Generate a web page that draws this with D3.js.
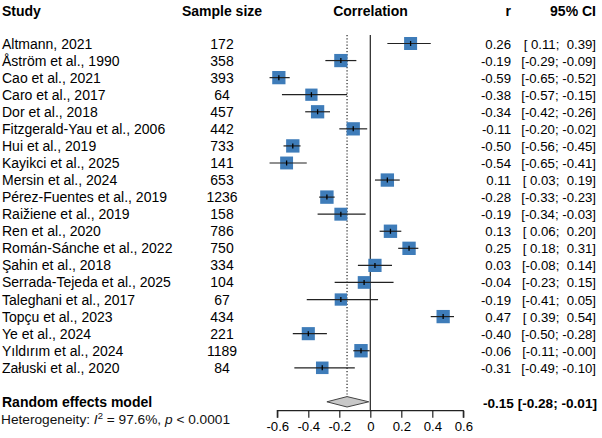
<!DOCTYPE html>
<html><head><meta charset="utf-8">
<script src="https://cdn.jsdelivr.net/npm/d3@7"></script>
<style>
body{margin:0;background:#fff}
svg{display:block;font-family:"Liberation Sans",Arial,sans-serif}
text{white-space:pre}
</style></head>
<body><svg id="c" width="602" height="438"></svg>
<script>
const studies = ["Altmann, 2021","Åström et al., 1990","Cao et al., 2021","Caro et al., 2017","Dor et al., 2018","Fitzgerald-Yau et al., 2006","Hui et al., 2019","Kayikci et al., 2025","Mersin et al., 2024","Pérez-Fuentes et al., 2019","Raižiene et al., 2019","Ren et al., 2020","Román-Sánche et al., 2022","Şahin et al., 2018","Serrada-Tejeda et al., 2025","Taleghani et al., 2017","Topçu et al., 2023","Ye et al., 2024","Yıldırım et al., 2024","Załuski et al., 2020"];
const sampleSizes = [172,358,393,64,457,442,733,141,653,1236,158,786,750,334,104,67,434,221,1189,84];
const rValues = [0.26,-0.19,-0.59,-0.38,-0.34,-0.11,-0.50,-0.54,0.11,-0.28,-0.19,0.13,0.25,0.03,-0.04,-0.19,0.47,-0.40,-0.06,-0.31];
const ciLow = [0.11,-0.29,-0.65,-0.57,-0.42,-0.20,-0.56,-0.65,0.03,-0.33,-0.34,0.06,0.18,-0.08,-0.23,-0.41,0.39,-0.50,-0.11,-0.49];
const ciHigh = [0.39,-0.09,-0.52,-0.15,-0.26,-0.02,-0.45,-0.41,0.19,-0.23,-0.03,0.20,0.31,0.14,0.15,0.05,0.54,-0.28,-0.004,-0.10];
const pooled = {r:-0.15, lo:-0.28, hi:-0.01};
const tickValues = [-0.6,-0.4,-0.2,0,0.2,0.4,0.6];
const heterogeneity = {i2:"97.6%", p:"< 0.0001"};

const svg = d3.select("#c");
const x = d3.scaleLinear().domain([-0.6,0.6]).range([277.3,463.3]);
const y = d3.scaleLinear().domain([0,studies.length-1]).range([43.5,367.8]);
const tau2 = 0.08;
const w = sampleSizes.map(n => 1/(1/(n-3)+tau2));
const sz = d3.scaleSqrt().domain([0,d3.max(w)]).range([0,13.4]);
const fmt = v => v.toFixed(2);
const pad = v => (v<0 ? "" : " ") + fmt(v);
const col = "#3E7CB9";
const ink = "#222";

// headers
const hdr = svg.append("g").attr("font-weight","bold").attr("font-size",14).attr("fill","#000");
hdr.append("text").attr("x",2).attr("y",16).text("Study");
hdr.append("text").attr("x",222).attr("y",16).attr("text-anchor","middle").text("Sample size");
hdr.append("text").attr("x",370.5).attr("y",16).attr("text-anchor","middle").text("Correlation");
hdr.append("text").attr("x",511).attr("y",16).attr("text-anchor","end").text("r");
hdr.append("text").attr("x",596).attr("y",16).attr("text-anchor","end").text("95% CI");

// reference lines
svg.append("line").attr("x1",x(0)).attr("x2",x(0)).attr("y1",35).attr("y2",410.7)
  .attr("stroke",ink).attr("stroke-width",1.2);
svg.append("line").attr("x1",x(pooled.r)).attr("x2",x(pooled.r)).attr("y1",35).attr("y2",397)
  .attr("stroke",ink).attr("stroke-width",1.2).attr("stroke-dasharray","1.2,2");

const rows = svg.append("g").selectAll("g").data(studies).join("g")
  .attr("transform",(d,i)=>`translate(0,${y(i)})`);
rows.append("text").attr("x",2).attr("y",5).attr("font-size",14).text(d=>d);
rows.append("text").attr("x",222).attr("y",5).attr("font-size",14).attr("text-anchor","middle").text((d,i)=>sampleSizes[i]);
rows.append("rect")
  .attr("x",(d,i)=>x(rValues[i])-sz(w[i])/2).attr("y",(d,i)=>-sz(w[i])/2)
  .attr("width",(d,i)=>sz(w[i])).attr("height",(d,i)=>sz(w[i])).attr("fill",col);
rows.append("line").attr("x1",(d,i)=>x(ciLow[i])).attr("x2",(d,i)=>x(ciHigh[i]))
  .attr("stroke",ink).attr("stroke-width",1.2);
rows.append("line").attr("x1",(d,i)=>x(rValues[i])).attr("x2",(d,i)=>x(rValues[i]))
  .attr("y1",-2.5).attr("y2",2.5).attr("stroke","#000").attr("stroke-width",1.3);
rows.append("text").attr("x",511).attr("y",5).attr("font-size",13.2).attr("text-anchor","end").text((d,i)=>fmt(rValues[i]));
rows.append("text").attr("x",596).attr("y",5).attr("font-size",13.2).attr("text-anchor","end")
  .text((d,i)=>`[${pad(ciLow[i])}; ${pad(ciHigh[i])}]`);

// pooled
const yd = 401.8;
svg.append("path").attr("d",`M${x(pooled.lo)},${yd}L${x(pooled.r)},${yd-5.2}L${x(pooled.hi)},${yd}L${x(pooled.r)},${yd+5.2}Z`)
  .attr("fill","#c8c8c8").attr("stroke","#444").attr("stroke-width",1);
svg.append("text").attr("x",2).attr("y",407.3).attr("font-weight","bold").attr("font-size",14).text("Random effects model");
svg.append("text").attr("x",597).attr("y",407.7).attr("font-weight","bold").attr("font-size",13.6).attr("text-anchor","end")
  .text(`${fmt(pooled.r)} [${pad(pooled.lo)}; ${pad(pooled.hi)}]`);
const het = svg.append("text").attr("x",1).attr("y",424.3).attr("font-size",13.7).attr("fill","#111");
het.append("tspan").text("Heterogeneity: ");
het.append("tspan").attr("font-style","italic").text("I");
het.append("tspan").attr("font-size",9.5).attr("dy",-5.5).text("2");
het.append("tspan").attr("dy",5.5).text(` = ${heterogeneity.i2}, `);
het.append("tspan").attr("font-style","italic").text("p");
het.append("tspan").text(` ${heterogeneity.p}`);

// axis
const ax = svg.append("g").attr("transform","translate(0,410.7)")
  .call(d3.axisBottom(x).tickValues(tickValues).tickSize(7).tickPadding(4).tickFormat(d=>d===0?"0":d3.format(".1f")(d).replace("−","-")));
ax.select(".domain").attr("stroke",ink).attr("stroke-width",1.2).attr("d",`M${x(-0.6)},7V0H${x(0.6)}V7`);
ax.selectAll(".tick line").attr("stroke",ink).attr("stroke-width",1.2);
ax.selectAll(".tick text").attr("font-size",13.2).attr("fill","#000").attr("font-family","Liberation Sans, Arial, sans-serif");
</script></body></html>
